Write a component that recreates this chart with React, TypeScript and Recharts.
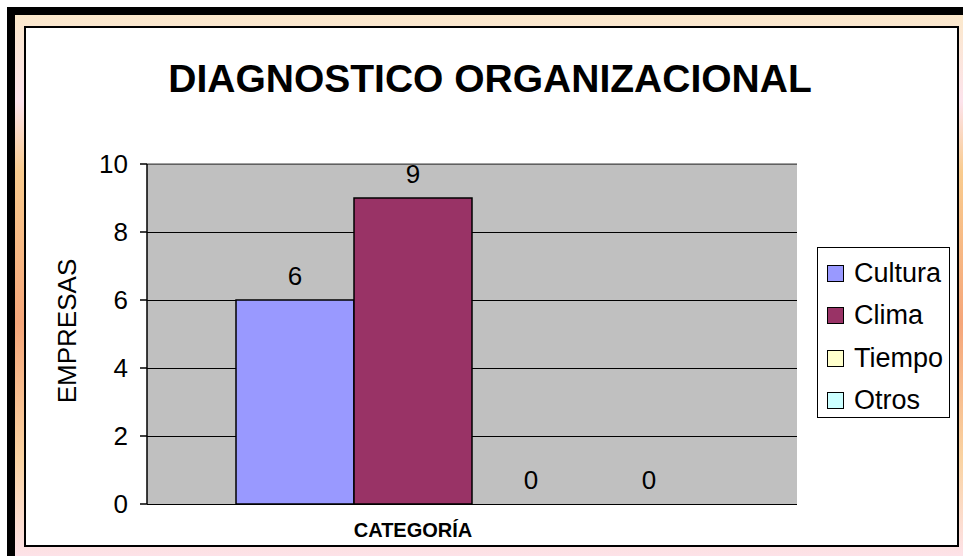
import {
    BarChart,
    Bar,
    Cell,
    XAxis,
    YAxis,
    CartesianGrid,
    Legend,
    LabelList,
    ReferenceLine,
} from "recharts";

const categories = ["CATEGORÍA"];
const cultura = [6];
const clima = [9];
const tiempo = [0];
const otros = [0];

const seriesKeys = ["cultura", "clima", "tiempo", "otros"];
const seriesNames = ["Cultura", "Clima", "Tiempo", "Otros"];
const seriesColors = ["#9999ff", "#993366", "#ffffcc", "#ccffff"];
const yTicks = [0, 2, 4, 6, 8, 10];

const FONT = "'Liberation Sans', Arial, sans-serif";

const data = categories.map((name, i) => ({
    name,
    cultura: cultura[i],
    clima: clima[i],
    tiempo: tiempo[i],
    otros: otros[i],
}));

function CategoryTick(props: any) {
    const { x, y, payload } = props;
    return (
        <text
            x={x - 59}
            y={y + 25}
            textAnchor="middle"
            fontFamily={FONT}
            fontSize={20}
            fontWeight="bold"
            fill="#000"
        >
            {payload.value}
        </text>
    );
}

function LegendBox() {
    return (
        <div
            style={{
                boxSizing: "border-box",
                width: 133,
                height: 171,
                border: "1.5px solid #000",
                background: "#fff",
                paddingTop: 4,
                paddingLeft: 9,
                fontFamily: FONT,
                fontSize: 27,
                color: "#000",
            }}
        >
            {seriesNames.map((name, i) => (
                <div
                    key={name}
                    style={{
                        display: "flex",
                        alignItems: "center",
                        height: 42.5,
                    }}
                >
                    <span
                        style={{
                            boxSizing: "border-box",
                            width: 17,
                            height: 17,
                            border: "1.5px solid #000",
                            background: seriesColors[i],
                            marginRight: 10,
                        }}
                    />
                    <span>{name}</span>
                </div>
            ))}
        </div>
    );
}

export default function App() {
    return (
        <div
            style={{
                position: "absolute",
                left: 0,
                top: 0,
                width: 963,
                height: 556,
                overflow: "hidden",
                background: "#fff",
            }}
        >
            {/* frame */}
            <div
                style={{
                    position: "absolute",
                    left: 7,
                    top: 7,
                    width: 980,
                    height: 580,
                    background: "#000",
                }}
            />
            <div
                style={{
                    position: "absolute",
                    left: 15,
                    top: 15,
                    width: 948,
                    height: 541,
                    background:
                        "linear-gradient(to bottom, #fbe8cb 0%, #fce3ec 16%, #f9cb8e 29%, #f5a67a 57%, #fad3a2 82%, #fde2e8 100%)",
                }}
            />
            <div
                style={{
                    position: "absolute",
                    left: 24,
                    top: 26,
                    width: 935,
                    height: 521,
                    boxSizing: "border-box",
                    border: "2px solid #000",
                    background: "#fff",
                }}
            />

            <div style={{ position: "absolute", left: 0, top: 0 }}>
                <BarChart
                    width={963}
                    height={556}
                    data={data}
                    margin={{ top: 164, right: 166, bottom: 22, left: 87 }}
                    barCategoryGap={89}
                    barGap={0}
                >
                    <CartesianGrid
                        vertical={false}
                        stroke="#000"
                        strokeOpacity={1}
                        shapeRendering="crispEdges"
                        fill="#c0c0c0"
                        fillOpacity={1}
                    />
                    <XAxis
                        dataKey="name"
                        height={30}
                        axisLine={{ stroke: "#000", shapeRendering: "crispEdges" }}
                        tickLine={false}
                        tick={<CategoryTick />}
                    />
                    <YAxis
                        width={60}
                        domain={[0, 10]}
                        ticks={yTicks}
                        interval={0}
                        axisLine={{ stroke: "#000", strokeWidth: 1.5 }}
                        tickLine={{ stroke: "#000", strokeWidth: 1.5 }}
                        tickSize={7}
                        tickMargin={12}
                        tick={{ fill: "#000", fontSize: 26, fontFamily: FONT }}
                    />
                    <YAxis
                        yAxisId="right"
                        orientation="right"
                        width={0}
                        domain={[0, 10]}
                        tick={false}
                        tickLine={false}
                        axisLine={{ stroke: "#808080", strokeWidth: 1.5 }}
                    />
                    <ReferenceLine y={10} stroke="#808080" strokeWidth={1.5} />
                    {seriesKeys.map((key, i) => (
                        <Bar
                            key={key}
                            dataKey={key}
                            name={seriesNames[i]}
                            fill={seriesColors[i]}
                            stroke="#000"
                            strokeWidth={1.5}
                            minPointSize={0.5}
                            isAnimationActive={false}
                        >
                            {data.map((d: any, j) => (
                                <Cell
                                    key={j}
                                    fill={d[key] === 0 ? "none" : seriesColors[i]}
                                    stroke={d[key] === 0 ? "none" : "#000"}
                                />
                            ))}
                            <LabelList
                                dataKey={key}
                                position="top"
                                offset={15}
                                fill="#000"
                                fontSize={26}
                                fontFamily={FONT}
                            />
                        </Bar>
                    ))}
                    <Legend
                        layout="vertical"
                        align="center"
                        verticalAlign="middle"
                        content={<LegendBox />}
                        wrapperStyle={{
                            left: 817,
                            top: 247,
                            width: 133,
                            height: 171,
                        }}
                    />
                </BarChart>
            </div>

            {/* title and axis title */}
            <svg
                width={963}
                height={556}
                style={{ position: "absolute", left: 0, top: 0, pointerEvents: "none" }}
            >
                <text
                    x={490}
                    y={92}
                    textAnchor="middle"
                    fontFamily={FONT}
                    fontSize={39}
                    fontWeight="bold"
                    fill="#000"
                >
                    DIAGNOSTICO ORGANIZACIONAL
                </text>
                <text
                    x={0}
                    y={0}
                    transform="translate(76 331) rotate(-90)"
                    textAnchor="middle"
                    fontFamily={FONT}
                    fontSize={26}
                    fill="#000"
                >
                    EMPRESAS
                </text>
            </svg>
        </div>
    );
}
